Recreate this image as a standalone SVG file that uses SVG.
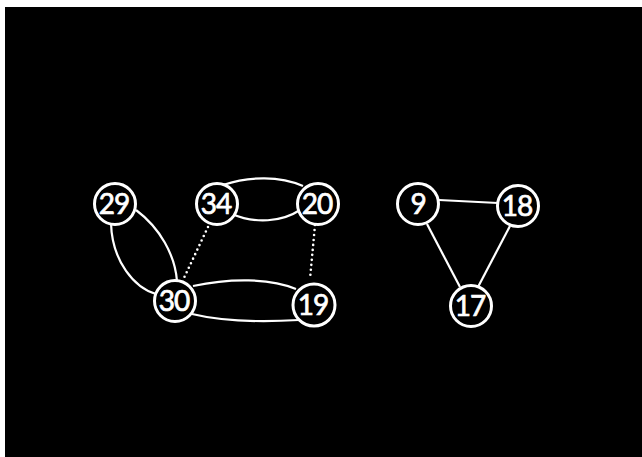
<svg xmlns="http://www.w3.org/2000/svg" width="642" height="457" viewBox="0 0 642 457">
<style>
.node circle{fill:#000;stroke:#fff;stroke-width:3}
.node text{fill:#fff;stroke:#fff;stroke-width:0.7;font-family:"Lato","DejaVu Sans",sans-serif;font-size:28px;letter-spacing:-1px;text-anchor:middle;dominant-baseline:central}
.edge{fill:none;stroke:#fff;stroke-width:2.2}
.dot{fill:none;stroke:#fff;stroke-width:2.6;stroke-linecap:round;stroke-dasharray:0 5}
</style>
<rect width="642" height="457" fill="#fff"/>
<rect x="5" y="7" width="637" height="450" fill="#000"/>
<g id="connectors">
<path class="edge" d="M111,223 C112,262 135,288 156,294"/>
<path class="edge" d="M136,210 C160,228 175,255 177,281"/>
<path class="edge" d="M223,185 C250,176 280,176 303,186"/>
<path class="edge" d="M232,214 C255,224 282,222 300,210"/>
<path class="dot" d="M208,227 L183,280"/>
<path class="dot" d="M315,225 L310,279"/>
<path class="edge" d="M193,286 C230,278 270,278 296,289"/>
<path class="edge" d="M192,314 C225,322 265,322 299,320"/>
<path class="edge" d="M439,200 L498,203"/>
<path class="edge" d="M427,224 L460,287"/>
<path class="edge" d="M510,226 L478,287"/>
</g>
<g id="n29" class="node"><circle cx="115" cy="204" r="20.5"/><text x="114" y="203">29</text></g>
<g id="n34" class="node"><circle cx="217" cy="204" r="20.5"/><text x="216" y="203">34</text></g>
<g id="n20" class="node"><circle cx="318" cy="204" r="20.5"/><text x="317" y="203">20</text></g>
<g id="n30" class="node"><circle cx="175" cy="301" r="20.5"/><text x="174" y="300">30</text></g>
<g id="n19" class="node"><circle cx="314" cy="305" r="21"/><text x="313" y="304">19</text></g>
<g id="n9" class="node"><circle cx="418" cy="204" r="20.5"/><text x="418" y="203">9</text></g>
<g id="n18" class="node"><circle cx="518" cy="206" r="20.5"/><text x="517" y="205">18</text></g>
<g id="n17" class="node"><circle cx="471" cy="306" r="20.5"/><text x="470" y="305">17</text></g>
</svg>
